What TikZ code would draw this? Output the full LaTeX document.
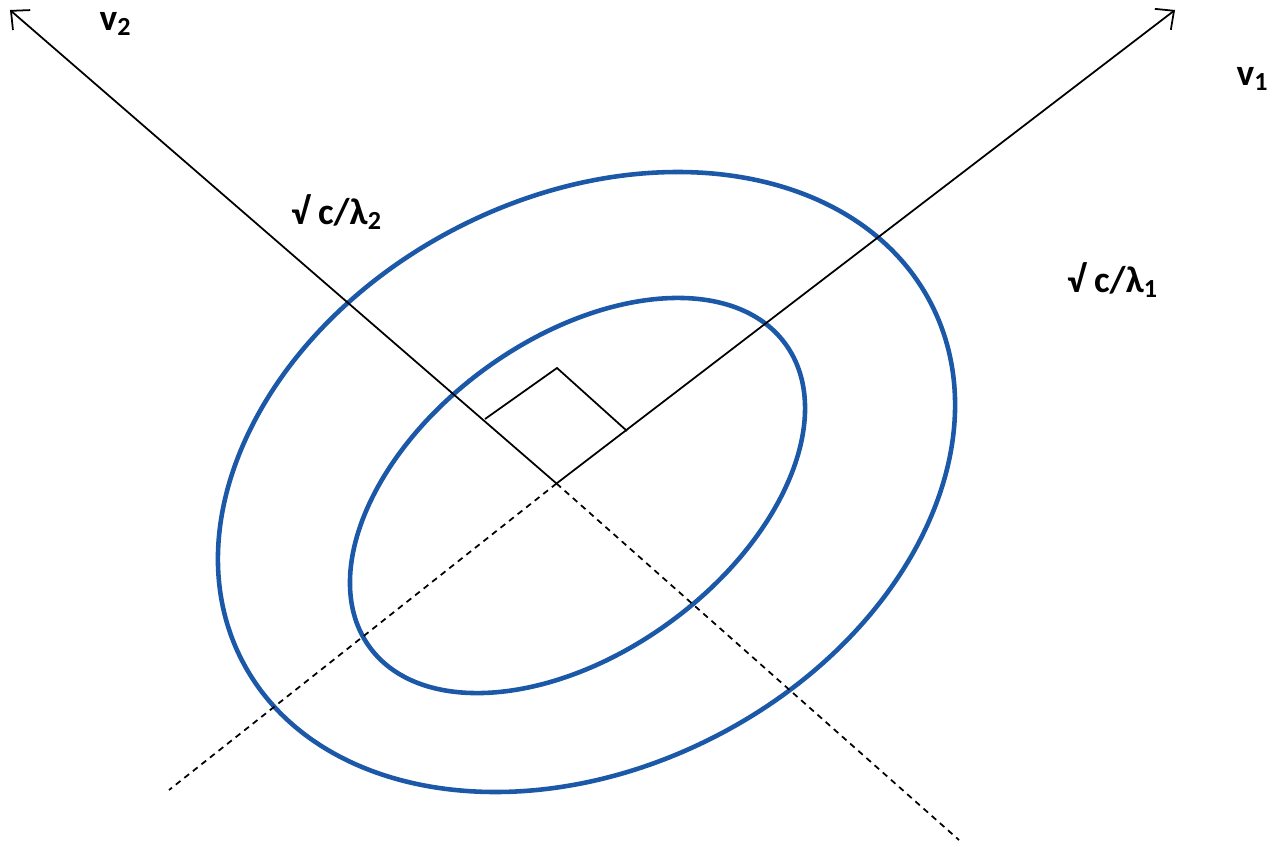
\documentclass[tikz,border=0pt]{standalone}
\usepackage{fontspec}
\setmainfont{Carlito}
\usepackage{tikz}
\usetikzlibrary{arrows.meta}

\definecolor{contour}{RGB}{28,88,168}

\begin{document}
\begin{tikzpicture}[
  axis/.style={line width=0.5pt, black},
  axisarrow/.style={axis, -{Straight Barb[length=4pt, width=7.5pt, line width=0.5pt]}},
  hidden/.style={axis, dash pattern=on 1.7pt off 1.4pt},
  level/.style={draw=contour, line width=1.3pt},
  lbl/.style={font=\fontsize{10.6}{12}\selectfont\bfseries, inner sep=0pt},
]
  \useasboundingbox (0,0) rectangle (12.74,-8.46);

  % eigenvector axes
  \coordinate (O) at (5.565,-4.835);
  \coordinate (v1tip) at (11.75,-0.10);
  \coordinate (v2tip) at (0.10,-0.10);
  \coordinate (v1back) at (1.69,-7.90);
  \coordinate (v2back) at (9.59,-8.40);

  % level sets
  \draw[level, rotate around={27.5:(5.865,-4.82)}] (5.865,-4.82) ellipse (3.88 and 2.852);
  \draw[level, rotate around={36.1:(5.775,-4.955)}] (5.775,-4.955) ellipse (2.573 and 1.568);

  \draw[axisarrow] (O) -- (v1tip);
  \draw[axisarrow] (O) -- (v2tip);
  \draw[hidden] (O) -- (v1back);
  \draw[hidden] (O) -- (v2back);

  % right angle mark
  \coordinate (ra1) at (4.85,-4.19);
  \coordinate (ra2) at (5.57,-3.68);
  \coordinate (ra3) at (6.27,-4.31);
  \draw[axis] (ra1) -- (ra2) -- (ra3);

  \node[lbl] (v2) at (1.16,-0.24) {v\textsubscript{2}};
  \node[lbl] (v1) at (12.53,-0.79) {v\textsubscript{1}};
  \node[lbl] (len2) at (3.37,-2.12) {√ c/λ\textsubscript{2}};
  \node[lbl] (len1) at (11.13,-2.80) {√ c/λ\textsubscript{1}};
\end{tikzpicture}
\end{document}
